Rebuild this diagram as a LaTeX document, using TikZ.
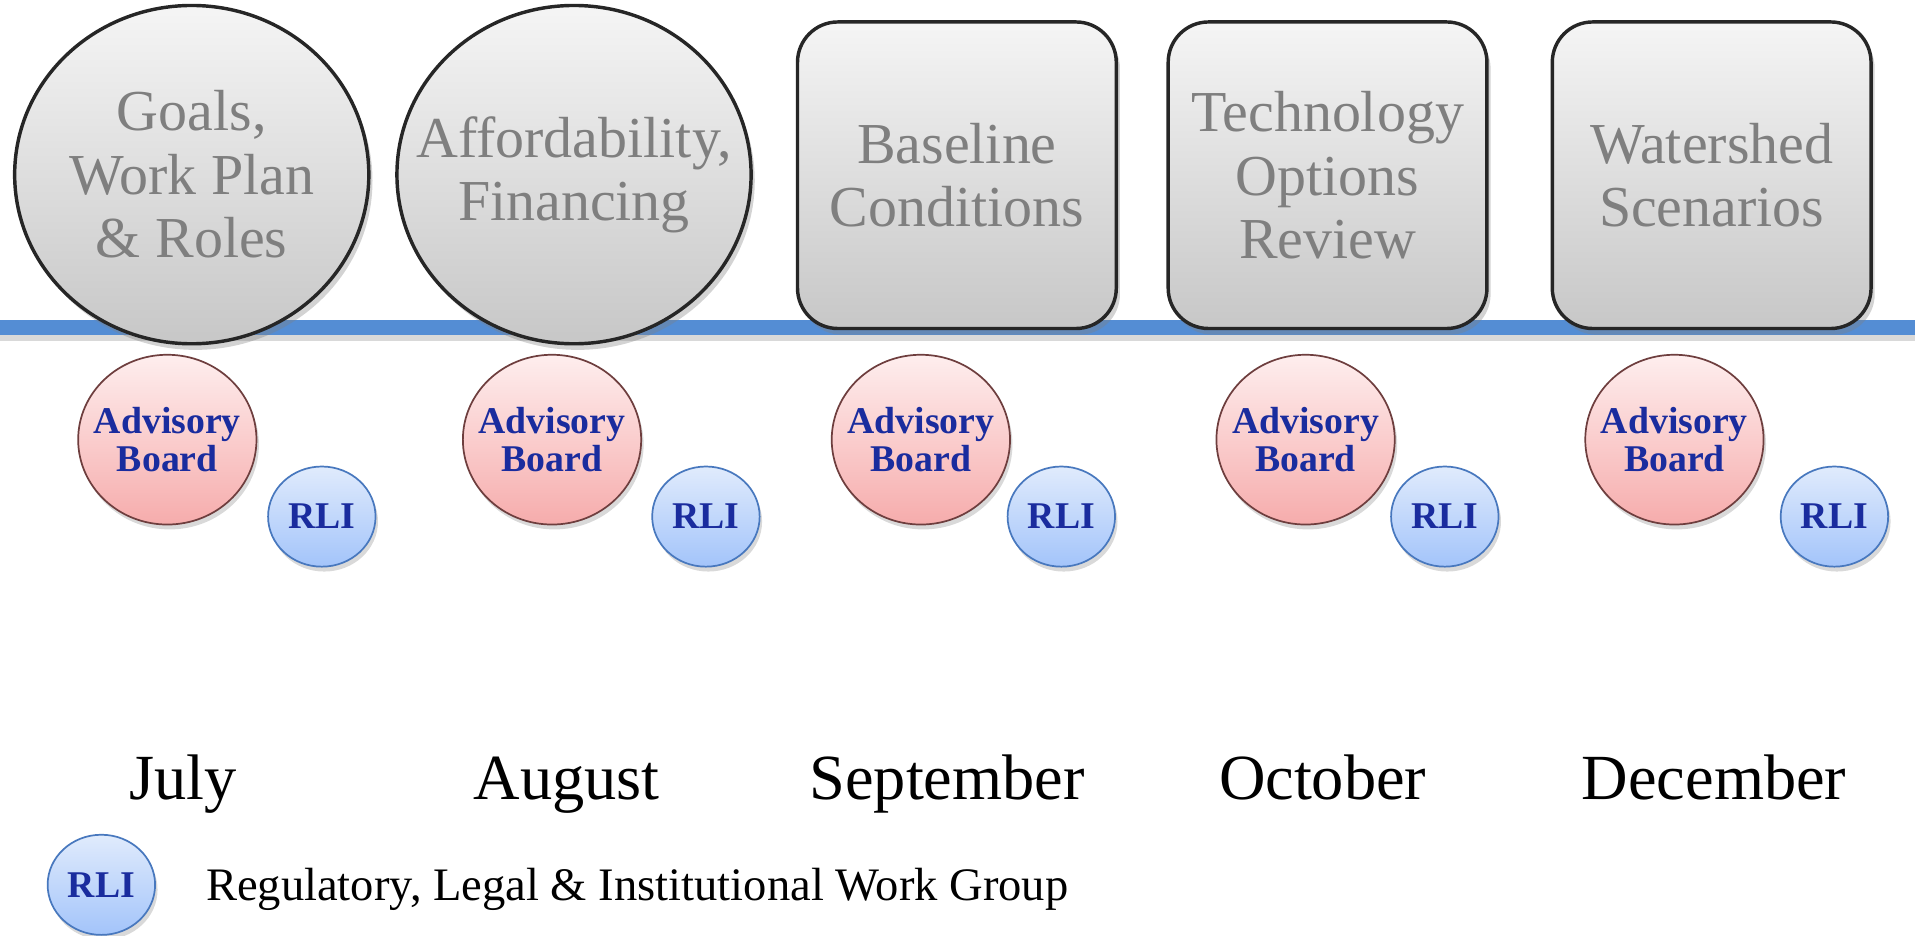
\documentclass[tikz,border=0pt]{standalone}
\usepackage{fontspec}
\setmainfont{Liberation Serif}
\usetikzlibrary{shapes.geometric,shadows}
\definecolor{lineblue}{RGB}{84,141,212}
\definecolor{topicgray}{RGB}{127,127,127}
\definecolor{boardtop}{RGB}{254,238,238}
\definecolor{boardbot}{RGB}{246,172,172}
\definecolor{boardedge}{RGB}{110,62,62}
\definecolor{rlitop}{RGB}{224,235,252}
\definecolor{rlibot}{RGB}{163,196,250}
\definecolor{rliedge}{RGB}{72,120,190}
\definecolor{navy}{RGB}{26,44,158}
\begin{document}
\begin{tikzpicture}
        \tikzstyle{topic}=[ellipse,draw=black!85,thick,top color=black!4,bottom color=black!22,inner sep=0pt,minimum width=2.9cm,minimum height=2.77cm,drop shadow={shadow xshift=0.03cm,shadow yshift=-0.05cm,opacity=0.35}]
        \tikzstyle{topictext}=[align=center,text=topicgray,font=\fontsize{13.5}{14.8}\selectfont]
        \tikzstyle{stage}=[topic,topictext,rectangle,rounded corners=0.33cm,minimum width=2.61cm,minimum height=2.51cm]
        \tikzstyle{board}=[ellipse,draw=boardedge,top color=boardtop,bottom color=boardbot,inner sep=0pt,minimum width=1.46cm,minimum height=1.39cm,drop shadow={shadow xshift=0.02cm,shadow yshift=-0.04cm,opacity=0.3}]
        \tikzstyle{boardtext}=[align=center,text=navy,font=\fontsize{8.8}{8.9}\selectfont\bfseries]
        \tikzstyle{rli}=[ellipse,draw=rliedge,top color=rlitop,bottom color=rlibot,inner sep=0pt,minimum width=0.88cm,minimum height=0.82cm,drop shadow={shadow xshift=0.02cm,shadow yshift=-0.04cm,opacity=0.3}]
        \tikzstyle{month}=[anchor=base,font=\fontsize{15}{18}\selectfont]
        \tikzstyle{timeline}=[draw=lineblue,line width=3.4pt,preaction={draw=black!15,line width=3pt,transform canvas={yshift=-0.06cm}}]
       \useasboundingbox (0,0) rectangle (15.68,7.66);

         % time line
         \coordinate (t0) at (0,4.98);
         \coordinate (t1) at (15.68,4.98);
         \path[timeline] (t0) -- (t1);

         % topics
         \node [topic,label={[topictext]center:Goals,\\Work Plan\\\& Roles}] (goals) at (1.57,6.23) {};
         \node [topic,label={[topictext]center:Affordability,\\Financing}] (afford) at (4.70,6.23) {};
         \node [stage] (base) at (7.835,6.225) {Baseline\\Conditions};
         \node [stage] (tech) at (10.87,6.225) {Technology\\Options\\Review};
         \node [stage] (water) at (14.015,6.225) {Watershed\\Scenarios};

         % advisory board
         \node [board,label={[boardtext]center:Advisory\\Board}] (ab1) at (1.37,4.06) {};
         \node [board,label={[boardtext]center:Advisory\\Board}] (ab2) at (4.52,4.06) {};
         \node [board,label={[boardtext]center:Advisory\\Board}] (ab3) at (7.54,4.06) {};
         \node [board,label={[boardtext]center:Advisory\\Board}] (ab4) at (10.69,4.06) {};
         \node [board,label={[boardtext]center:Advisory\\Board}] (ab5) at (13.71,4.06) {};

         % work group
         \node [rli,label={[boardtext]center:RLI}] (rli1) at (2.635,3.43) {};
         \node [rli,label={[boardtext]center:RLI}] (rli2) at (5.78,3.43) {};
         \node [rli,label={[boardtext]center:RLI}] (rli3) at (8.69,3.43) {};
         \node [rli,label={[boardtext]center:RLI}] (rli4) at (11.83,3.43) {};
         \node [rli,label={[boardtext]center:RLI}] (rli5) at (15.02,3.43) {};

         % months
         \node [month] (jul) at (1.50,1.11) {July};
         \node [month] (aug) at (4.64,1.11) {August};
         \node [month] (sep) at (7.755,1.11) {September};
         \node [month] (oct) at (10.83,1.11) {October};
         \node [month] (dec) at (14.035,1.11) {December};

         % legend
         \node [rli,label={[boardtext]center:RLI}] (key) at (0.83,0.415) {};
         \node [anchor=base west,inner sep=0pt,font=\fontsize{10.85}{13}\selectfont] (keytext) at (1.68,0.29) {Regulatory, Legal \& Institutional Work Group};
      \end{tikzpicture}
\end{document}
